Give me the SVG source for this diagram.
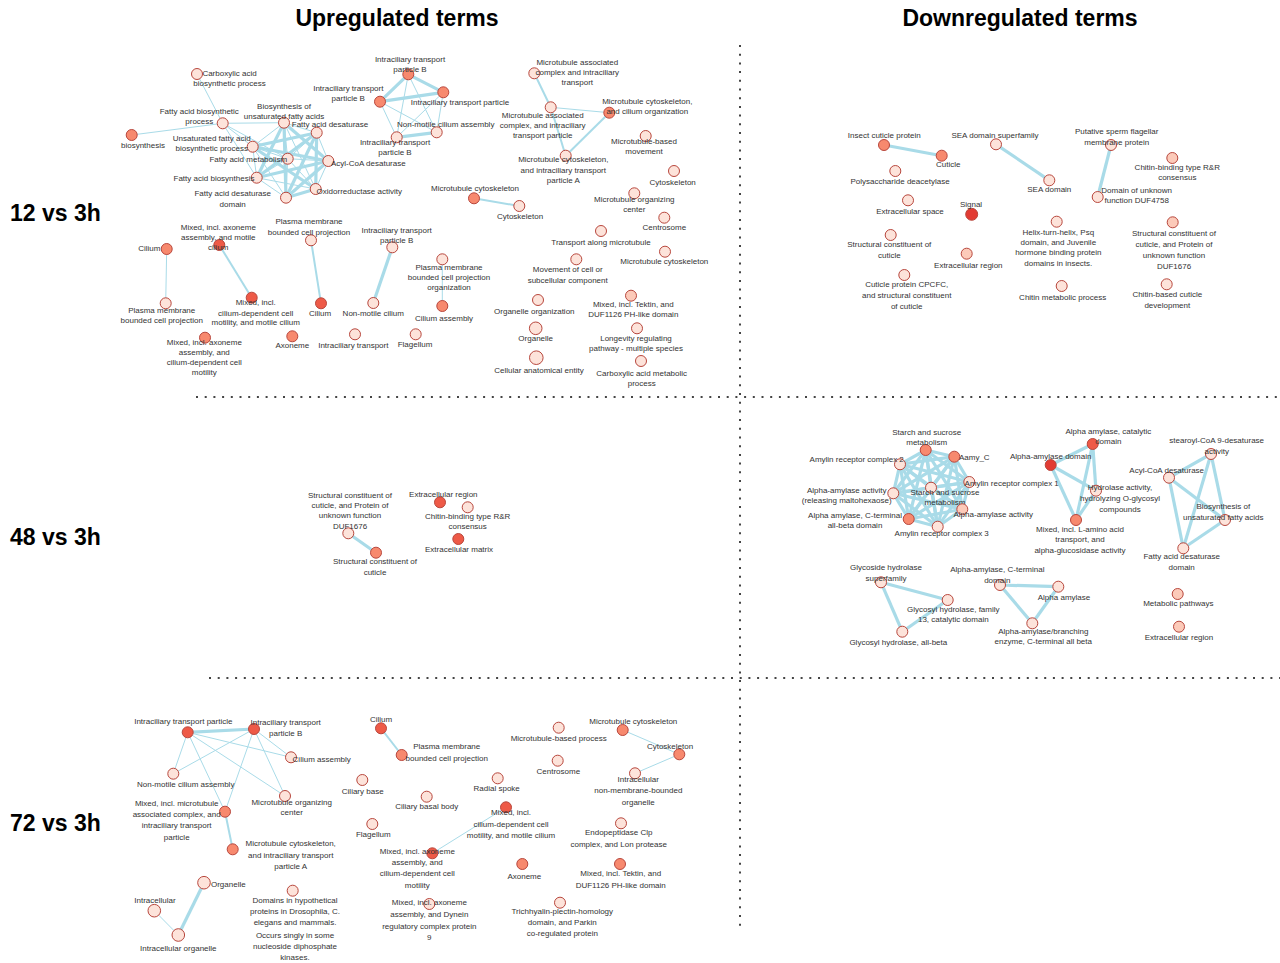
<svg xmlns="http://www.w3.org/2000/svg" width="1280" height="963" viewBox="0 0 1280 963">
<style>
text{font-family:"Liberation Sans",Arial,sans-serif;font-size:8px;fill:#333;text-anchor:middle}
.h{font-size:23px;font-weight:bold;fill:#000}
.rl{font-size:23px;font-weight:bold;fill:#000;text-anchor:start}
circle{stroke:#b8473d;stroke-width:1}
.c0{fill:#fde3da}.c1{fill:#fccab9}.c3{fill:#f7896e}.c4{fill:#ee5a47}.c5{fill:#e23b33}
.e1{stroke:#a9dbe8;stroke-width:1;fill:none}
.e2{stroke:#a9dbe8;stroke-width:2;fill:none}
.e3{stroke:#a9dbe8;stroke-width:3.2;fill:none}
.sep{stroke:#444;stroke-width:2;stroke-dasharray:2 6.7;fill:none}
</style>
<rect width="1280" height="963" fill="#fff"/>
<g id="headers">
<text class="h" x="397" y="26">Upregulated terms</text>
<text class="h" x="1020" y="26">Downregulated terms</text>
<text class="rl" x="10" y="221">12 vs 3h</text>
<text class="rl" x="10" y="545">48 vs 3h</text>
<text class="rl" x="10" y="831">72 vs 3h</text>
</g>
<g id="separators">
<line class="sep" x1="740" y1="45" x2="740" y2="930"/>
<line class="sep" x1="196" y1="397" x2="1280" y2="397"/>
<line class="sep" x1="209" y1="678" x2="1280" y2="678"/>
</g>
<g id="connectors">
<!-- fatty acid cluster 12 up -->
<line class="e1" x1="197" y1="74" x2="222.7" y2="123.3"/>
<line class="e1" x1="131.7" y1="135" x2="222.7" y2="123.3"/>
<line class="e1" x1="222.7" y1="123.3" x2="284" y2="122.7"/>
<line class="e1" x1="222.7" y1="123.3" x2="252.7" y2="146.7"/>
<line class="e1" x1="222.7" y1="123.3" x2="256.7" y2="177.7"/>
<line class="e1" x1="222.7" y1="123.3" x2="287.7" y2="158.7"/>
<line class="e1" x1="284" y1="122.7" x2="316.7" y2="132.7"/>
<line class="e1" x1="284" y1="122.7" x2="252.7" y2="146.7"/>
<line class="e1" x1="284" y1="122.7" x2="287.7" y2="158.7"/>
<line class="e3" x1="284" y1="122.7" x2="328.3" y2="161"/>
<line class="e3" x1="284" y1="122.7" x2="256.7" y2="177.7"/>
<line class="e1" x1="284" y1="122.7" x2="315.7" y2="189"/>
<line class="e3" x1="284" y1="122.7" x2="286" y2="197.7"/>
<line class="e3" x1="316.7" y1="132.7" x2="252.7" y2="146.7"/>
<line class="e1" x1="316.7" y1="132.7" x2="287.7" y2="158.7"/>
<line class="e1" x1="316.7" y1="132.7" x2="328.3" y2="161"/>
<line class="e3" x1="316.7" y1="132.7" x2="256.7" y2="177.7"/>
<line class="e3" x1="316.7" y1="132.7" x2="315.7" y2="189"/>
<line class="e3" x1="316.7" y1="132.7" x2="286" y2="197.7"/>
<line class="e1" x1="252.7" y1="146.7" x2="287.7" y2="158.7"/>
<line class="e3" x1="252.7" y1="146.7" x2="328.3" y2="161"/>
<line class="e1" x1="252.7" y1="146.7" x2="256.7" y2="177.7"/>
<line class="e3" x1="252.7" y1="146.7" x2="315.7" y2="189"/>
<line class="e1" x1="252.7" y1="146.7" x2="286" y2="197.7"/>
<line class="e1" x1="287.7" y1="158.7" x2="328.3" y2="161"/>
<line class="e1" x1="287.7" y1="158.7" x2="256.7" y2="177.7"/>
<line class="e1" x1="287.7" y1="158.7" x2="315.7" y2="189"/>
<line class="e1" x1="287.7" y1="158.7" x2="286" y2="197.7"/>
<line class="e3" x1="328.3" y1="161" x2="256.7" y2="177.7"/>
<line class="e1" x1="328.3" y1="161" x2="315.7" y2="189"/>
<line class="e3" x1="328.3" y1="161" x2="286" y2="197.7"/>
<line class="e1" x1="256.7" y1="177.7" x2="315.7" y2="189"/>
<line class="e1" x1="256.7" y1="177.7" x2="286" y2="197.7"/>
<line class="e3" x1="315.7" y1="189" x2="286" y2="197.7"/>
<!-- ITP cluster 12 up -->
<line class="e3" x1="408.3" y1="74.3" x2="380" y2="101.7"/>
<line class="e3" x1="408.3" y1="74.3" x2="443.3" y2="92.3"/>
<line class="e3" x1="380" y1="101.7" x2="443.3" y2="92.3"/>
<line class="e3" x1="396.7" y1="137.3" x2="436.7" y2="132.3"/>
<line class="e1" x1="380" y1="101.7" x2="396.7" y2="137.3"/>
<line class="e1" x1="408.3" y1="74.3" x2="396.7" y2="137.3"/>
<line class="e1" x1="408.3" y1="74.3" x2="436.7" y2="132.3"/>
<line class="e1" x1="443.3" y1="92.3" x2="396.7" y2="137.3"/>
<line class="e1" x1="443.3" y1="92.3" x2="436.7" y2="132.3"/>
<line class="e1" x1="380" y1="101.7" x2="436.7" y2="132.3"/>
<!-- MT cluster 12 up -->
<line class="e2" x1="534.3" y1="73.3" x2="550.7" y2="107.3"/>
<line class="e1" x1="550.7" y1="107.3" x2="609.3" y2="112.7"/>
<line class="e2" x1="550.7" y1="107.3" x2="565.7" y2="155.7"/>
<line class="e2" x1="609.3" y1="112.7" x2="565.7" y2="155.7"/>
<line class="e2" x1="474" y1="198.3" x2="519.3" y2="206"/>
<line class="e1" x1="442.3" y1="259.3" x2="442.3" y2="306"/>
<line class="e1" x1="166.7" y1="249" x2="165.7" y2="303.3"/>
<line class="e2" x1="219.3" y1="245" x2="251.7" y2="297.7"/>
<line class="e2" x1="311" y1="240.3" x2="321" y2="303.3"/>
<line class="e3" x1="392.3" y1="247.3" x2="373.3" y2="303"/>
<!-- 12 down -->
<line class="e3" x1="884" y1="145" x2="941.7" y2="155.7"/>
<line class="e3" x1="996" y1="144.3" x2="1049.3" y2="180.3"/>
<line class="e3" x1="1111" y1="145" x2="1097.7" y2="197"/>
<!-- 48 up -->
<line class="e3" x1="348.3" y1="533.3" x2="376" y2="552.7"/>
<!-- 48 down amylase cluster -->
<g class="e3">
<line x1="925.7" y1="450" x2="954.3" y2="456.7"/><line x1="925.7" y1="450" x2="900" y2="464.3"/><line x1="925.7" y1="450" x2="969.3" y2="482"/><line x1="925.7" y1="450" x2="931" y2="487.7"/><line x1="925.7" y1="450" x2="893.3" y2="493.3"/><line x1="925.7" y1="450" x2="962.3" y2="509.3"/><line x1="925.7" y1="450" x2="908.7" y2="519"/><line x1="925.7" y1="450" x2="937.7" y2="526.7"/>
<line x1="954.3" y1="456.7" x2="900" y2="464.3"/><line x1="954.3" y1="456.7" x2="969.3" y2="482"/><line x1="954.3" y1="456.7" x2="931" y2="487.7"/><line x1="954.3" y1="456.7" x2="893.3" y2="493.3"/><line x1="954.3" y1="456.7" x2="962.3" y2="509.3"/><line x1="954.3" y1="456.7" x2="908.7" y2="519"/><line x1="954.3" y1="456.7" x2="937.7" y2="526.7"/>
<line x1="900" y1="464.3" x2="969.3" y2="482"/><line x1="900" y1="464.3" x2="931" y2="487.7"/><line x1="900" y1="464.3" x2="893.3" y2="493.3"/><line x1="900" y1="464.3" x2="962.3" y2="509.3"/><line x1="900" y1="464.3" x2="908.7" y2="519"/><line x1="900" y1="464.3" x2="937.7" y2="526.7"/>
<line x1="969.3" y1="482" x2="931" y2="487.7"/><line x1="969.3" y1="482" x2="893.3" y2="493.3"/><line x1="969.3" y1="482" x2="962.3" y2="509.3"/><line x1="969.3" y1="482" x2="908.7" y2="519"/><line x1="969.3" y1="482" x2="937.7" y2="526.7"/>
<line x1="931" y1="487.7" x2="893.3" y2="493.3"/><line x1="931" y1="487.7" x2="962.3" y2="509.3"/><line x1="931" y1="487.7" x2="908.7" y2="519"/><line x1="931" y1="487.7" x2="937.7" y2="526.7"/>
<line x1="893.3" y1="493.3" x2="962.3" y2="509.3"/><line x1="893.3" y1="493.3" x2="908.7" y2="519"/><line x1="893.3" y1="493.3" x2="937.7" y2="526.7"/>
<line x1="962.3" y1="509.3" x2="908.7" y2="519"/><line x1="962.3" y1="509.3" x2="937.7" y2="526.7"/>
<line x1="908.7" y1="519" x2="937.7" y2="526.7"/>
<!-- alpha-amylase K4 -->
<line x1="1092.7" y1="444" x2="1050.7" y2="465"/><line x1="1092.7" y1="444" x2="1096" y2="490.7"/><line x1="1092.7" y1="444" x2="1076" y2="520"/><line x1="1050.7" y1="465" x2="1096" y2="490.7"/><line x1="1050.7" y1="465" x2="1076" y2="520"/><line x1="1096" y1="490.7" x2="1076" y2="520"/>
<!-- desaturase K4 -->
<line x1="1211" y1="454" x2="1169" y2="477.7"/><line x1="1211" y1="454" x2="1225" y2="520"/><line x1="1211" y1="454" x2="1183.3" y2="548.3"/><line x1="1169" y1="477.7" x2="1225" y2="520"/><line x1="1169" y1="477.7" x2="1183.3" y2="548.3"/><line x1="1225" y1="520" x2="1183.3" y2="548.3"/>
<!-- triangles -->
<line x1="881" y1="582.3" x2="947.7" y2="600"/><line x1="881" y1="582.3" x2="902.3" y2="631.7"/><line x1="947.7" y1="600" x2="902.3" y2="631.7"/>
<line x1="1000" y1="585" x2="1058.3" y2="586.7"/><line x1="1000" y1="585" x2="1032.3" y2="623.3"/><line x1="1058.3" y1="586.7" x2="1032.3" y2="623.3"/>
</g>
<!-- 72 up -->
<line class="e3" x1="187.7" y1="732.3" x2="254" y2="729"/>
<line class="e1" x1="187.7" y1="732.3" x2="291" y2="757.3"/>
<line class="e1" x1="187.7" y1="732.3" x2="285" y2="796"/>
<line class="e1" x1="187.7" y1="732.3" x2="173.3" y2="773.7"/>
<line class="e1" x1="187.7" y1="732.3" x2="225" y2="811.7"/>
<line class="e1" x1="254" y1="729" x2="173.3" y2="773.7"/>
<line class="e1" x1="254" y1="729" x2="291" y2="757.3"/>
<line class="e1" x1="254" y1="729" x2="285" y2="796"/>
<line class="e1" x1="254" y1="729" x2="225" y2="811.7"/>
<line class="e2" x1="225" y1="811.7" x2="232.7" y2="849.3"/>
<line class="e3" x1="204" y1="882.7" x2="178.3" y2="935"/>
<line class="e1" x1="154.3" y1="910.7" x2="178.3" y2="935"/>
<line class="e2" x1="381" y1="728.3" x2="401.7" y2="755"/>
<line class="e1" x1="506" y1="807.3" x2="432.3" y2="853.3"/>
<line class="e1" x1="622.7" y1="730" x2="679.3" y2="754.3"/>
<line class="e1" x1="679.3" y1="754.3" x2="635" y2="773.3"/>
</g>
<!-- ===== 12 vs 3h upregulated ===== -->
<g id="n-carboxylic-biosyn"><circle class="c0" cx="197" cy="74" r="5.5"/><text x="229.5" y="76">Carboxylic acid<tspan x="229.5" dy="10.4">biosynthetic process</tspan></text></g>
<g id="n-biosynthesis"><circle class="c3" cx="131.7" cy="135" r="5.5"/><text x="143" y="148">biosynthesis</text></g>
<g id="n-fa-biosyn-process"><circle class="c0" cx="222.7" cy="123.3" r="5.5"/><text x="199.3" y="114">Fatty acid biosynthetic<tspan x="199.3" dy="10.4">process</tspan></text></g>
<g id="n-biosyn-unsat"><circle class="c0" cx="284" cy="122.7" r="5.5"/><text x="284" y="108.7">Biosynthesis of<tspan x="284" dy="10.2">unsaturated fatty acids</tspan></text></g>
<g id="n-fa-desat"><circle class="c0" cx="316.7" cy="132.7" r="5.5"/><text x="330" y="127.3">Fatty acid desaturase</text></g>
<g id="n-unsat-fa-biosyn"><circle class="c0" cx="252.7" cy="146.7" r="5.5"/><text x="211.7" y="140.7">Unsaturated fatty acid<tspan x="211.7" dy="10.2">biosynthetic process</tspan></text></g>
<g id="n-fa-metab"><circle class="c0" cx="287.7" cy="158.7" r="5.5"/><text x="248.3" y="161.7">Fatty acid metabolism</text></g>
<g id="n-acyl-coa"><circle class="c0" cx="328.3" cy="161" r="5.5"/><text x="368.3" y="166.3">Acyl-CoA desaturase</text></g>
<g id="n-fa-biosynthesis"><circle class="c0" cx="256.7" cy="177.7" r="5.5"/><text x="214" y="181.3">Fatty acid biosynthesis</text></g>
<g id="n-oxidorreductase"><circle class="c0" cx="315.7" cy="189" r="5.5"/><text x="359.3" y="193.7">Oxidorreductase activity</text></g>
<g id="n-fad-domain"><circle class="c0" cx="286" cy="197.7" r="5.5"/><text x="232.7" y="196.3">Fatty acid desaturase<tspan x="232.7" dy="10.2">domain</tspan></text></g>
<g id="n-itpb-top"><circle class="c3" cx="408.3" cy="74.3" r="5.5"/><text x="410" y="62">Intraciliary transport<tspan x="410" dy="10.3">particle B</tspan></text></g>
<g id="n-itpb-left"><circle class="c3" cx="380" cy="101.7" r="5.5"/><text x="348.3" y="91.3">Intraciliary transport<tspan x="348.3" dy="10">particle B</tspan></text></g>
<g id="n-itp"><circle class="c3" cx="443.3" cy="92.3" r="5.5"/><text x="460" y="104.7">Intraciliary transport particle</text></g>
<g id="n-nonmotile-assembly"><circle class="c0" cx="436.7" cy="132.3" r="5.5"/><text x="445.7" y="127">Non-motile cilium assembly</text></g>
<g id="n-itpb-low"><circle class="c0" cx="396.7" cy="137.3" r="5.5"/><text x="395" y="145.3">Intraciliary transport<tspan x="395" dy="10">particle B</tspan></text></g>
<g id="n-mt-assoc-it"><circle class="c0" cx="534.3" cy="73.3" r="5.5"/><text x="577.3" y="65.3">Microtubule associated<tspan x="577.3" dy="10">complex and intraciliary</tspan><tspan x="577.3" dy="10">transport</tspan></text></g>
<g id="n-mt-assoc-itp"><circle class="c0" cx="550.7" cy="107.3" r="5.5"/><text x="542.7" y="118">Microtubule associated<tspan x="542.7" dy="10">complex, and intraciliary</tspan><tspan x="542.7" dy="10">transport particle</tspan></text></g>
<g id="n-mt-cyto-cilium-org"><circle class="c3" cx="609.3" cy="112.7" r="5.5"/><text x="647.3" y="103.7">Microtubule cytoskeleton,<tspan x="647.3" dy="10">and cilium organization</tspan></text></g>
<g id="n-mt-cyto-itpa"><circle class="c0" cx="565.7" cy="155.7" r="5.5"/><text x="563.3" y="162.3">Microtubule cytoskeleton,<tspan x="563.3" dy="10.5">and intraciliary transport</tspan><tspan x="563.3" dy="10.2">particle A</tspan></text></g>
<g id="n-mt-based-movement"><circle class="c0" cx="645.7" cy="136" r="5.5"/><text x="644" y="143.7">Microtubule-based<tspan x="644" dy="10.3">movement</tspan></text></g>
<g id="n-cytoskeleton-a"><circle class="c0" cx="674" cy="171" r="5.5"/><text x="672.7" y="184.7">Cytoskeleton</text></g>
<g id="n-mtoc"><circle class="c0" cx="634.3" cy="193.3" r="5.5"/><text x="634.3" y="202">Microtubule organizing<tspan x="634.3" dy="10">center</tspan></text></g>
<g id="n-mt-cytoskeleton-a"><circle class="c3" cx="474" cy="198.3" r="5.5"/><text x="475" y="191.3">Microtubule cytoskeleton</text></g>
<g id="n-cytoskeleton-b"><circle class="c0" cx="519.3" cy="206" r="5.5"/><text x="520" y="218.7">Cytoskeleton</text></g>
<g id="n-centrosome"><circle class="c0" cx="664.3" cy="217.7" r="5.5"/><text x="664.3" y="230.3">Centrosome</text></g>
<g id="n-transport-mt"><circle class="c0" cx="601" cy="231" r="5.5"/><text x="601" y="245.3">Transport along microtubule</text></g>
<g id="n-mt-cytoskeleton-b"><circle class="c0" cx="665" cy="251.7" r="5.5"/><text x="664.3" y="263.7">Microtubule cytoskeleton</text></g>
<g id="n-movement"><circle class="c0" cx="576.3" cy="259.3" r="5.5"/><text x="567.7" y="272.3">Movement of cell or<tspan x="567.7" dy="10.4">subcellular component</tspan></text></g>
<g id="n-pm-bcp-org"><circle class="c0" cx="442.3" cy="259.3" r="5.5"/><text x="449" y="270">Plasma membrane<tspan x="449" dy="10">bounded cell projection</tspan><tspan x="449" dy="10">organization</tspan></text></g>
<g id="n-cilium-assembly-a"><circle class="c3" cx="442.3" cy="306" r="5.5"/><text x="444" y="321">Cilium assembly</text></g>
<g id="n-organelle-org"><circle class="c0" cx="538" cy="300" r="5.5"/><text x="534.3" y="313.7">Organelle organization</text></g>
<g id="n-tektin-a"><circle class="c1" cx="631" cy="295.7" r="5.5"/><text x="633.3" y="306.7">Mixed, incl. Tektin, and<tspan x="633.3" dy="10">DUF1126 PH-like domain</tspan></text></g>
<g id="n-organelle-a"><circle class="c0" cx="535.7" cy="328.3" r="6.3"/><text x="535.7" y="340.7">Organelle</text></g>
<g id="n-longevity"><circle class="c0" cx="637" cy="328.3" r="5.5"/><text x="636" y="340.7">Longevity regulating<tspan x="636" dy="10.3">pathway - multiple species</tspan></text></g>
<g id="n-cell-anat"><circle class="c0" cx="536.3" cy="357.7" r="6.8"/><text x="539" y="372.7">Cellular anatomical entity</text></g>
<g id="n-carboxylic-metab"><circle class="c0" cx="641" cy="361" r="5.5"/><text x="641.7" y="376">Carboxylic acid metabolic<tspan x="641.7" dy="10.3">process</tspan></text></g>
<g id="n-cilium-a"><circle class="c3" cx="166.7" cy="249" r="5.5"/><text x="149.3" y="251.3">Cilium</text></g>
<g id="n-pm-bcp-a"><circle class="c0" cx="165.7" cy="303.3" r="5.5"/><text x="161.7" y="313">Plasma membrane<tspan x="161.7" dy="10.3">bounded cell projection</tspan></text></g>
<g id="n-mixed-axo-motile"><circle class="c4" cx="219.3" cy="245" r="5.5"/><text x="218.3" y="229.7">Mixed, incl. axoneme<tspan x="218.3" dy="10">assembly, and motile</tspan><tspan x="218.3" dy="10">cilium</tspan></text></g>
<g id="n-mixed-cilium-dep-a"><circle class="c4" cx="251.7" cy="297.7" r="5.5"/><text x="255.7" y="305.3">Mixed, incl.<tspan x="255.7" dy="10.3">cilium-dependent cell</tspan><tspan x="255.7" dy="9.8">motility, and motile cilium</tspan></text></g>
<g id="n-mixed-axo-dep-a"><circle class="c3" cx="205" cy="337.7" r="5.5"/><text x="204.3" y="344.7">Mixed, incl. axoneme<tspan x="204.3" dy="10">assembly, and</tspan><tspan x="204.3" dy="10">cilium-dependent cell</tspan><tspan x="204.3" dy="10">motility</tspan></text></g>
<g id="n-pm-bcp-b"><circle class="c0" cx="311" cy="240.3" r="5.5"/><text x="309" y="224">Plasma membrane<tspan x="309" dy="10.6">bounded cell projection</tspan></text></g>
<g id="n-cilium-b"><circle class="c4" cx="321" cy="303.3" r="5.5"/><text x="320" y="316.3">Cilium</text></g>
<g id="n-itpb-b"><circle class="c0" cx="392.3" cy="247.3" r="5.5"/><text x="396.7" y="233">Intraciliary transport<tspan x="396.7" dy="10">particle B</tspan></text></g>
<g id="n-nonmotile-cilium"><circle class="c0" cx="373.3" cy="303" r="5.5"/><text x="373.3" y="316.3">Non-motile cilium</text></g>
<g id="n-axoneme-a"><circle class="c3" cx="292.3" cy="336.3" r="5.5"/><text x="292.3" y="348">Axoneme</text></g>
<g id="n-intraciliary-transport"><circle class="c0" cx="355" cy="334.3" r="5.5"/><text x="353.3" y="348">Intraciliary transport</text></g>
<g id="n-flagellum-a"><circle class="c0" cx="415.7" cy="334.3" r="5.5"/><text x="415" y="347.3">Flagellum</text></g>
<!-- ===== 12 vs 3h downregulated ===== -->
<g id="n-insect-cuticle"><circle class="c3" cx="884" cy="145" r="5.5"/><text x="884.3" y="138.3">Insect cuticle protein</text></g>
<g id="n-cuticle"><circle class="c3" cx="941.7" cy="155.7" r="5.5"/><text x="948.3" y="167.3">Cuticle</text></g>
<g id="n-polysaccharide"><circle class="c0" cx="895.3" cy="171" r="5.5"/><text x="900" y="184">Polysaccharide deacetylase</text></g>
<g id="n-extracellular-space"><circle class="c0" cx="908" cy="200.3" r="5.5"/><text x="910" y="214">Extracellular space</text></g>
<g id="n-signal"><circle class="c5" cx="971.7" cy="214.3" r="6"/><text x="971" y="206.7">Signal</text></g>
<g id="n-struct-cuticle-a"><circle class="c0" cx="890.7" cy="235" r="5.5"/><text x="889.3" y="247.3">Structural constituent of<tspan x="889.3" dy="11">cuticle</tspan></text></g>
<g id="n-extracellular-region-a"><circle class="c1" cx="966.7" cy="253.7" r="5.5"/><text x="968.3" y="268">Extracellular region</text></g>
<g id="n-cpcfc"><circle class="c0" cx="904.3" cy="275" r="5.5"/><text x="906.7" y="287.3">Cuticle protein CPCFC,<tspan x="906.7" dy="10.7">and structural constituent</tspan><tspan x="906.7" dy="10.7">of cuticle</tspan></text></g>
<g id="n-sea-super"><circle class="c0" cx="996" cy="144.3" r="5.5"/><text x="995" y="138.3">SEA domain superfamily</text></g>
<g id="n-sea"><circle class="c0" cx="1049.3" cy="180.3" r="5.5"/><text x="1049.3" y="192.3">SEA domain</text></g>
<g id="n-sperm"><circle class="c0" cx="1111" cy="145" r="5.5"/><text x="1116.7" y="133.7">Putative sperm flagellar<tspan x="1116.7" dy="11">membrane protein</tspan></text></g>
<g id="n-duf4758"><circle class="c0" cx="1097.7" cy="197" r="5.5"/><text x="1136.7" y="192.7">Domain of unknown<tspan x="1136.7" dy="10.6">function DUF4758</tspan></text></g>
<g id="n-chitin-rr-a"><circle class="c1" cx="1172.3" cy="158" r="5.5"/><text x="1177.3" y="169.7">Chitin-binding type R&amp;R<tspan x="1177.3" dy="10">consensus</tspan></text></g>
<g id="n-helix"><circle class="c0" cx="1056.7" cy="221.7" r="5.5"/><text x="1058.3" y="235.3">Helix-turn-helix, Psq<tspan x="1058.3" dy="9.8">domain, and Juvenile</tspan><tspan x="1058.3" dy="10.3">hormone binding protein</tspan><tspan x="1058.3" dy="10.3">domains in insects.</tspan></text></g>
<g id="n-struct-duf1676-a"><circle class="c1" cx="1172.7" cy="222.3" r="5.5"/><text x="1174" y="236.3">Structural constituent of<tspan x="1174" dy="11">cuticle, and Protein of</tspan><tspan x="1174" dy="11">unknown function</tspan><tspan x="1174" dy="11">DUF1676</tspan></text></g>
<g id="n-chitin-metab"><circle class="c0" cx="1061.7" cy="286" r="5.5"/><text x="1062.7" y="299.7">Chitin metabolic process</text></g>
<g id="n-chitin-cuticle-dev"><circle class="c0" cx="1166.7" cy="284.3" r="5.5"/><text x="1167.3" y="297.3">Chitin-based cuticle<tspan x="1167.3" dy="10.7">development</tspan></text></g>
<!-- ===== 48 vs 3h upregulated ===== -->
<g id="n-struct-duf1676-b"><circle class="c0" cx="348.3" cy="533.3" r="5.5"/><text x="350" y="498">Structural constituent of<tspan x="350" dy="10">cuticle, and Protein of</tspan><tspan x="350" dy="10">unknown function</tspan><tspan x="350" dy="11">DUF1676</tspan></text></g>
<g id="n-struct-cuticle-b"><circle class="c3" cx="376" cy="552.7" r="5.5"/><text x="375" y="564.3">Structural constituent of<tspan x="375" dy="10.7">cuticle</tspan></text></g>
<g id="n-extracellular-region-b"><circle class="c4" cx="440" cy="502.3" r="5.5"/><text x="443.3" y="497">Extracellular region</text></g>
<g id="n-chitin-rr-b"><circle class="c0" cx="467.7" cy="507.3" r="5.5"/><text x="467.7" y="518.7">Chitin-binding type R&amp;R<tspan x="467.7" dy="10.6">consensus</tspan></text></g>
<g id="n-extracellular-matrix"><circle class="c4" cx="458.3" cy="539" r="5.5"/><text x="459" y="552.3">Extracellular matrix</text></g>
<!-- ===== 48 vs 3h downregulated ===== -->
<g id="n-starch-a"><circle class="c3" cx="925.7" cy="450" r="5.5"/><text x="926.7" y="434.7">Starch and sucrose<tspan x="926.7" dy="10.6">metabolism</tspan></text></g>
<g id="n-aamy-c"><circle class="c3" cx="954.3" cy="456.7" r="5.5"/><text x="974.3" y="459.7">Aamy_C</text></g>
<g id="n-amylin2"><circle class="c0" cx="900" cy="464.3" r="5.5"/><text x="856.7" y="462.3">Amylin receptor complex 2</text></g>
<g id="n-amylin1"><circle class="c0" cx="969.3" cy="482" r="5.5"/><text x="1011.7" y="486.3">Amylin receptor complex 1</text></g>
<g id="n-starch-b"><circle class="c0" cx="931" cy="487.7" r="5.5"/><text x="945" y="494.7">Starch and sucrose<tspan x="945" dy="10">metabolism</tspan></text></g>
<g id="n-aa-maltohexaose"><circle class="c0" cx="893.3" cy="493.3" r="5.5"/><text x="846.7" y="493">Alpha-amylase activity<tspan x="846.7" dy="10.3">(releasing maltohexaose)</tspan></text></g>
<g id="n-aa-activity"><circle class="c1" cx="962.3" cy="509.3" r="5.5"/><text x="993.3" y="517">Alpha-amylase activity</text></g>
<g id="n-aa-cterm-allbeta"><circle class="c3" cx="908.7" cy="519" r="5.5"/><text x="855" y="518">Alpha amylase, C-terminal<tspan x="855" dy="10.3">all-beta domain</tspan></text></g>
<g id="n-amylin3"><circle class="c0" cx="937.7" cy="526.7" r="5.5"/><text x="941.7" y="536.3">Amylin receptor complex 3</text></g>
<g id="n-aa-catalytic"><circle class="c4" cx="1092.7" cy="444" r="5.5"/><text x="1108.3" y="433.7">Alpha amylase, catalytic<tspan x="1108.3" dy="10.6">domain</tspan></text></g>
<g id="n-aa-domain"><circle class="c5" cx="1050.7" cy="465" r="5.5"/><text x="1050.7" y="458.7">Alpha-amylase domain</text></g>
<g id="n-hydrolase"><circle class="c0" cx="1096" cy="490.7" r="5.5"/><text x="1120" y="490.3">Hydrolase activity,<tspan x="1120" dy="11">hydrolyzing O-glycosyl</tspan><tspan x="1120" dy="10.4">compounds</tspan></text></g>
<g id="n-mixed-lamino"><circle class="c3" cx="1076" cy="520" r="5.5"/><text x="1080" y="532">Mixed, incl. L-amino acid<tspan x="1080" dy="10.3">transport, and</tspan><tspan x="1080" dy="10.3">alpha-glucosidase activity</tspan></text></g>
<g id="n-stearoyl"><circle class="c0" cx="1211" cy="454" r="5.5"/><text x="1216.7" y="443">stearoyl-CoA 9-desaturase<tspan x="1216.7" dy="10.7">activity</tspan></text></g>
<g id="n-acyl-coa-b"><circle class="c0" cx="1169" cy="477.7" r="5.5"/><text x="1166.7" y="473">Acyl-CoA desaturase</text></g>
<g id="n-biosyn-unsat-b"><circle class="c0" cx="1225" cy="520" r="5.5"/><text x="1223.3" y="509">Biosynthesis of<tspan x="1223.3" dy="10.7">unsaturated fatty acids</tspan></text></g>
<g id="n-fad-domain-b"><circle class="c0" cx="1183.3" cy="548.3" r="5.5"/><text x="1181.7" y="559">Fatty acid desaturase<tspan x="1181.7" dy="10.7">domain</tspan></text></g>
<g id="n-glycoside-super"><circle class="c0" cx="881" cy="582.3" r="5.5"/><text x="886" y="570.3">Glycoside hydrolase<tspan x="886" dy="11">superfamily</tspan></text></g>
<g id="n-glycosyl-13"><circle class="c0" cx="947.7" cy="600" r="5.5"/><text x="953.3" y="612">Glycosyl hydrolase, family<tspan x="953.3" dy="10.3">13, catalytic domain</tspan></text></g>
<g id="n-glycosyl-allbeta"><circle class="c0" cx="902.3" cy="631.7" r="5.5"/><text x="898.3" y="645.3">Glycosyl hydrolase, all-beta</text></g>
<g id="n-aa-cterm-domain"><circle class="c0" cx="1000" cy="585" r="5.5"/><text x="997.3" y="572.3">Alpha-amylase, C-terminal<tspan x="997.3" dy="10.7">domain</tspan></text></g>
<g id="n-alpha-amylase"><circle class="c0" cx="1058.3" cy="586.7" r="5.5"/><text x="1064" y="600.3">Alpha amylase</text></g>
<g id="n-branching"><circle class="c0" cx="1032.3" cy="623.3" r="5.5"/><text x="1043.3" y="634">Alpha-amylase/branching<tspan x="1043.3" dy="10">enzyme, C-terminal all beta</tspan></text></g>
<g id="n-metabolic"><circle class="c1" cx="1177.7" cy="594" r="5.5"/><text x="1178.3" y="606.3">Metabolic pathways</text></g>
<g id="n-extracellular-region-c"><circle class="c1" cx="1179" cy="626.7" r="5.5"/><text x="1179" y="639.7">Extracellular region</text></g>
<!-- ===== 72 vs 3h upregulated ===== -->
<g id="n-itp-c"><circle class="c4" cx="187.7" cy="732.3" r="5.5"/><text x="183.3" y="724">Intraciliary transport particle</text></g>
<g id="n-itpb-c"><circle class="c4" cx="254" cy="729" r="5.5"/><text x="285.7" y="724.7">Intraciliary transport<tspan x="285.7" dy="11.6">particle B</tspan></text></g>
<g id="n-cilium-assembly-c"><circle class="c0" cx="291" cy="757.3" r="5.5"/><text x="321.7" y="762.3">Cilium assembly</text></g>
<g id="n-nonmotile-assembly-c"><circle class="c0" cx="173.3" cy="773.7" r="5.5"/><text x="185.7" y="786.7">Non-motile cilium assembly</text></g>
<g id="n-mtoc-c"><circle class="c0" cx="285" cy="796" r="5.5"/><text x="291.7" y="804.7">Microtubule organizing<tspan x="291.7" dy="10.6">center</tspan></text></g>
<g id="n-mixed-mt-assoc"><circle class="c3" cx="225" cy="811.7" r="5.5"/><text x="176.7" y="806.3">Mixed, incl. microtubule<tspan x="176.7" dy="10.8">associated complex, and</tspan><tspan x="176.7" dy="11">intraciliary transport</tspan><tspan x="176.7" dy="12">particle</tspan></text></g>
<g id="n-mt-cyto-itpa-c"><circle class="c3" cx="232.7" cy="849.3" r="5.5"/><text x="290.7" y="845.7">Microtubule cytoskeleton,<tspan x="290.7" dy="12">and intraciliary transport</tspan><tspan x="290.7" dy="11.3">particle A</tspan></text></g>
<g id="n-organelle-c"><circle class="c0" cx="204" cy="882.7" r="6.3"/><text x="228.3" y="887.3">Organelle</text></g>
<g id="n-intracellular"><circle class="c0" cx="154.3" cy="910.7" r="6.3"/><text x="155" y="903">Intracellular</text></g>
<g id="n-intracellular-organelle"><circle class="c0" cx="178.3" cy="935" r="6.3"/><text x="178.3" y="950.7">Intracellular organelle</text></g>
<g id="n-domains-hypothetical"><circle class="c0" cx="292.7" cy="890.7" r="5.5"/><text x="295" y="903">Domains in hypothetical<tspan x="295" dy="11">proteins in Drosophila, C.</tspan><tspan x="295" dy="11.3">elegans and mammals.</tspan><tspan x="295" dy="12.4">Occurs singly in some</tspan><tspan x="295" dy="11">nucleoside diphosphate</tspan><tspan x="295" dy="11">kinases.</tspan></text></g>
<g id="n-cilium-c"><circle class="c4" cx="381" cy="728.3" r="5.5"/><text x="381" y="722.3">Cilium</text></g>
<g id="n-pm-bcp-c"><circle class="c3" cx="401.7" cy="755" r="5.5"/><text x="446.7" y="749">Plasma membrane<tspan x="446.7" dy="11.7">bounded cell projection</tspan></text></g>
<g id="n-ciliary-base"><circle class="c0" cx="362.3" cy="780" r="5.5"/><text x="362.7" y="794">Ciliary base</text></g>
<g id="n-ciliary-basal-body"><circle class="c0" cx="426.7" cy="796.7" r="5.5"/><text x="426.7" y="809">Ciliary basal body</text></g>
<g id="n-flagellum-c"><circle class="c0" cx="372.3" cy="824" r="5.5"/><text x="373.3" y="837">Flagellum</text></g>
<g id="n-radial-spoke"><circle class="c0" cx="497.7" cy="778.3" r="5.5"/><text x="496.7" y="790.7">Radial spoke</text></g>
<g id="n-mixed-cilium-dep-c"><circle class="c4" cx="506" cy="807.3" r="5.5"/><text x="511" y="815.3">Mixed, incl.<tspan x="511" dy="11.4">cilium-dependent cell</tspan><tspan x="511" dy="11.3">motility, and motile cilium</tspan></text></g>
<g id="n-mixed-axo-dep-c"><circle class="c4" cx="432.3" cy="853.3" r="5.5"/><text x="417.3" y="853.7">Mixed, incl. axoneme<tspan x="417.3" dy="11">assembly, and</tspan><tspan x="417.3" dy="11.6">cilium-dependent cell</tspan><tspan x="417.3" dy="11.7">motility</tspan></text></g>
<g id="n-mixed-dynein"><circle class="c0" cx="429.3" cy="904" r="5.5"/><text x="429.3" y="905.3">Mixed, incl. axoneme<tspan x="429.3" dy="11.7">assembly, and Dynein</tspan><tspan x="429.3" dy="11.7">regulatory complex protein</tspan><tspan x="429.3" dy="11">9</tspan></text></g>
<g id="n-axoneme-c"><circle class="c3" cx="522.3" cy="864" r="5.5"/><text x="524.3" y="879">Axoneme</text></g>
<g id="n-mt-based-process"><circle class="c0" cx="558.7" cy="727.7" r="5.5"/><text x="558.7" y="741.3">Microtubule-based process</text></g>
<g id="n-centrosome-c"><circle class="c0" cx="557.7" cy="760.7" r="5.5"/><text x="558.3" y="773.7">Centrosome</text></g>
<g id="n-mt-cytoskeleton-c"><circle class="c3" cx="622.7" cy="730" r="5.5"/><text x="633.3" y="724">Microtubule cytoskeleton</text></g>
<g id="n-cytoskeleton-c"><circle class="c3" cx="679.3" cy="754.3" r="5.5"/><text x="670" y="748.7">Cytoskeleton</text></g>
<g id="n-intracellular-nmbo"><circle class="c0" cx="635" cy="773.3" r="5.5"/><text x="638.3" y="782">Intracellular<tspan x="638.3" dy="11.3">non-membrane-bounded</tspan><tspan x="638.3" dy="11.4">organelle</tspan></text></g>
<g id="n-endopeptidase"><circle class="c0" cx="621" cy="823.3" r="5.5"/><text x="618.7" y="835.3">Endopeptidase Clp<tspan x="618.7" dy="11.4">complex, and Lon protease</tspan></text></g>
<g id="n-tektin-c"><circle class="c3" cx="620" cy="864" r="5.5"/><text x="620.7" y="876.3">Mixed, incl. Tektin, and<tspan x="620.7" dy="11.7">DUF1126 PH-like domain</tspan></text></g>
<g id="n-trichhyalin"><circle class="c0" cx="560" cy="902.7" r="5.5"/><text x="562.3" y="913.7">Trichhyalin-plectin-homology<tspan x="562.3" dy="11.3">domain, and Parkin</tspan><tspan x="562.3" dy="11.3">co-regulated protein</tspan></text></g>
</svg>
